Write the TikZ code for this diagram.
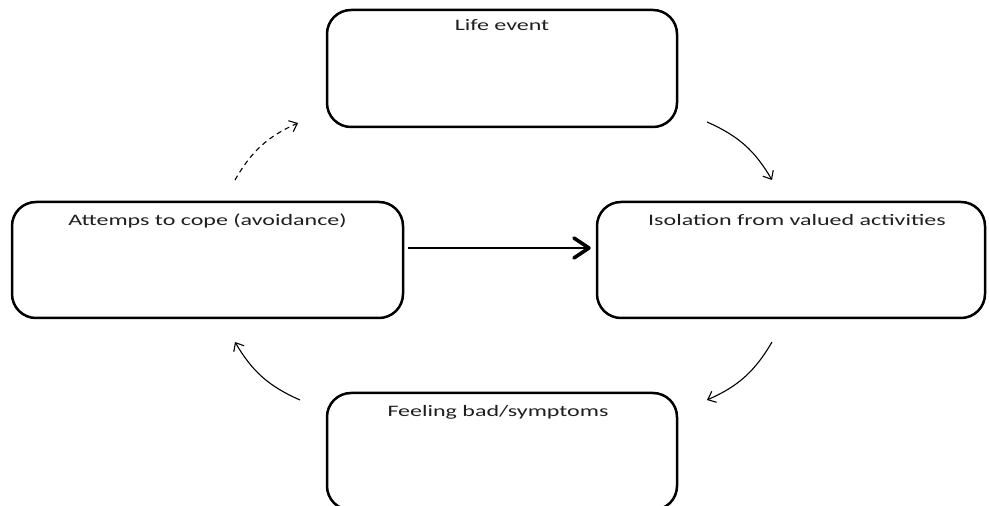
\documentclass[tikz,border=0pt]{standalone}
\usepackage{fontspec}
\setmainfont{Carlito}[FakeStretch=1.5]
\usetikzlibrary{arrows.meta}
\begin{document}
\begin{tikzpicture}[x=1pt,y=1pt,
  box/.style={draw=black, line width=2.5pt, rounded corners=24pt, fill=white, inner sep=0pt},
  lbl/.style={font=\fontsize{16}{19}\selectfont, text=black!88, anchor=base, inner sep=0pt},
  flow/.style={line width=1.1pt, -{Straight Barb[length=7pt,width=12pt]}},
  dflow/.style={flow, dash pattern=on 5pt off 4pt},
  mainflow/.style={line width=2pt, -{Straight Barb[length=15pt,width=20pt,line width=3.6pt,round]}}
]
\useasboundingbox (0,0) rectangle (989,506);
\fill[white] (0,0) rectangle (989,506);

\node[box, minimum width=350pt, minimum height=117pt,
      label={[lbl,yshift=-22pt]north:Life event}] (life) at (502,437.5) {};
\node[box, minimum width=391pt, minimum height=116pt,
      label={[lbl,yshift=-25pt]north:Attemps to cope (avoidance)}] (att) at (207.5,246) {};
\node[box, minimum width=388pt, minimum height=116pt,
      label={[lbl,yshift=-25pt,xshift=6pt]north:Isolation from valued activities}] (iso) at (791,246) {};
\node[box, minimum width=350pt, minimum height=117pt,
      label={[lbl,yshift=-25pt,xshift=-4pt]north:Feeling bad/symptoms}] (feel) at (502,54.5) {};

% free ends of the cycle arrows
\coordinate (d1s) at (235,326);
\coordinate (d1e) at (298,383);
\coordinate (a1s) at (707,384);
\coordinate (a1e) at (772,326);
\coordinate (a2s) at (772,164);
\coordinate (a2e) at (707,106);
\coordinate (a3s) at (300,106);
\coordinate (a3e) at (235,164);

\draw[dflow] (d1s) to[bend left=18] (d1e);
\draw[flow] (a1s) to[bend left=18] (a1e);
\draw[flow] (a2s) to[bend left=18] (a2e);
\draw[flow] (a3s) to[bend left=18] (a3e);

\draw[mainflow] ([xshift=4pt,yshift=12pt]att.east) -- ([xshift=-5pt,yshift=12pt]iso.west);
\end{tikzpicture}
\end{document}
